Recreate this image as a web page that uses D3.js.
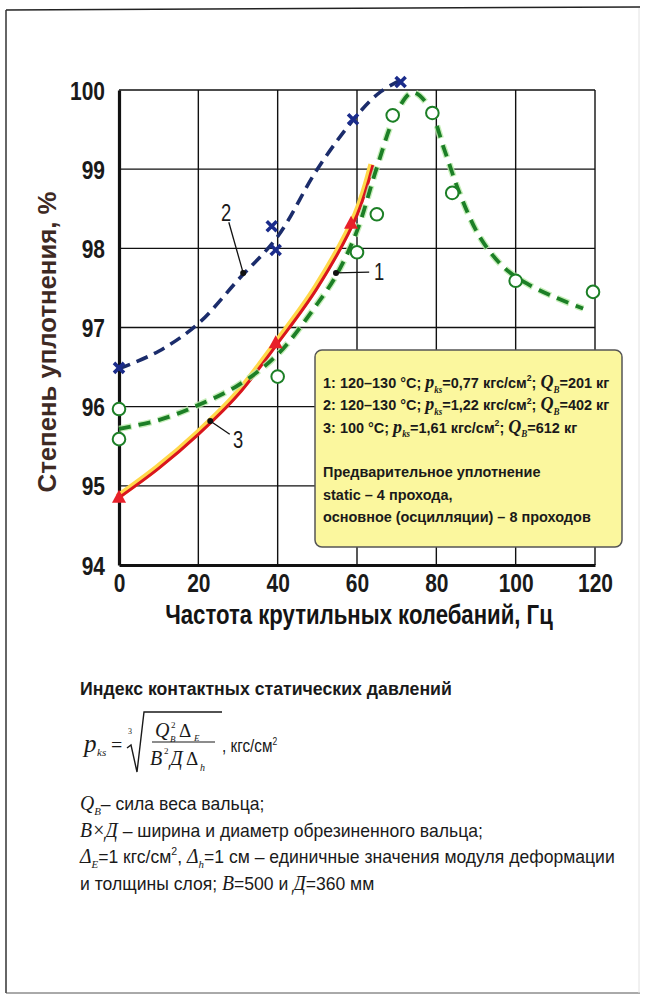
<!DOCTYPE html>
<html><head><meta charset="utf-8">
<script src="https://cdn.jsdelivr.net/npm/d3@7/dist/d3.min.js"></script>
<style>
body{margin:0;background:#fff;}
svg{display:block;}
.nar{font-family:"Liberation Sans",Arial,sans-serif;}
.ser{font-family:"Liberation Serif","DejaVu Serif",serif;font-style:italic;}
</style></head>
<body>
<svg id="c" width="645" height="996"></svg>
<script>
// ---- data ----
const xTicks = [0,20,40,60,80,100,120];
const yTicks = [94,95,96,97,98,99,100];
// curve 1 (green dashed) – fitted line
const curve1 = [[0,95.72],[10,95.83],[20,96.02],[30,96.27],[40,96.66],[50,97.3],[55,97.68],[60,98.22],[65,99.02],[70,99.72],[74,99.97],[78,99.8],[82,99.25],[86,98.68],[91,98.14],[97,97.76],[103,97.55],[110,97.38],[117,97.24]];
const points1 = [[0,95.97],[0,95.59],[40,96.38],[60,97.95],[65,98.43],[69,99.68],[79,99.71],[84,98.7],[100,97.59],[119.5,97.45]];
// curve 2 (blue dashed)
const curve2 = [[0,96.48],[10,96.7],[20,97.05],[30,97.6],[40,98.15],[50,99.0],[60,99.68],[66,99.98],[72,100.15]];
const points2 = [[0,96.49],[38.5,98.28],[39.5,97.98],[59,99.63],[71,100.1]];
// curve 3 (red solid)
const curve3 = [[0,94.85],[10,95.22],[20,95.65],[30,96.15],[40,96.8],[50,97.5],[60,98.42],[64,99.05]];
const points3 = [[0,94.85],[39.5,96.8],[58.5,98.31]];
// curve labels: [label, labelX, labelY, pointX, pointY]
const labels = [["2",27,98.35,31.3,97.69],["1",65.6,97.6,54.7,97.69],["3",30,95.48,23,95.82]];
const legendLines = [
  [["1: 120–130 °С; ","n"],["p","i"],["ks","sub"],["=0,77 кгс/см","n"],["2","sup"],["; ","n"],["Q","i"],["B","sub"],["=201 кг","n"]],
  [["2: 120–130 °С; ","n"],["p","i"],["ks","sub"],["=1,22 кгс/см","n"],["2","sup"],["; ","n"],["Q","i"],["B","sub"],["=402 кг","n"]],
  [["3: 100 °С; ","n"],["p","i"],["ks","sub"],["=1,61 кгс/см","n"],["2","sup"],["; ","n"],["Q","i"],["B","sub"],["=612 кг","n"]],
  null,
  [["Предварительное уплотнение","n"]],
  [["static – 4 прохода,","n"]],
  [["основное (осцилляции) – 8 проходов","n"]]
];
const notes = [
  [["Q","i"],["B","sub"],["– сила веса вальца;","n"]],
  [["B×Д","i"],[" – ширина и диаметр обрезиненного вальца;","n"]],
  [["Δ","i"],["E","sub"],["=1 кгс/см","n"],["2","sup"],[", ","n"],["Δ","i"],["h","sub"],["=1 см – единичные значения модуля деформации","n"]],
  [["и толщины слоя; ","n"],["B","i"],["=500 и ","n"],["Д","i"],["=360 мм","n"]]
];

const svg = d3.select("#c");
const x = d3.scaleLinear().domain([0,120]).range([119,595]);
const y = d3.scaleLinear().domain([94,100]).range([565,90]);

function scaleX(sel, s){ sel.attr("transform",`scale(${s},1)`); }
function widthOf(sel){ return sel.node().getBBox().width; }

// rich text line builder (sub/sup shifts are undone on the next part)
function rich(parent, parts, fs, opts){
  const t = parent.append("text").attr("class","nar").attr("font-size",fs)
    .attr("font-weight",opts.bold?"bold":null).attr("fill","#1a1a1a");
  let back = 0;
  parts.forEach(([s,k])=>{
    let sp;
    if(k==="n") sp = t.append("tspan").text(s);
    else if(k==="i") sp = t.append("tspan").attr("class","ser").attr("font-size",fs*opts.iscale).text(s);
    else if(k==="sub") sp = t.append("tspan").attr("class","ser").attr("font-size",fs*0.62).text(s);
    else if(k==="sup") sp = t.append("tspan").attr("font-size",fs*0.6).text(s);
    let shift = k==="sub" ? fs*0.3 : k==="sup" ? -fs*0.42 : 0;
    const d = back + shift;
    if(d!==0) sp.attr("dy",d);
    back = -shift;
  });
  return t;
}

// page frame
svg.append("line").attr("x1",6).attr("y1",10).attr("x2",640).attr("y2",7).attr("stroke","#222").attr("stroke-width",1.5);
svg.append("line").attr("x1",6).attr("y1",10).attr("x2",6).attr("y2",993).attr("stroke","#333").attr("stroke-width",1.5);
svg.append("line").attr("x1",6).attr("y1",993).attr("x2",640).attr("y2",993).attr("stroke","#555").attr("stroke-width",1);
svg.append("line").attr("x1",639).attr("y1",8).attr("x2",639).attr("y2",993).attr("stroke","#e2e2e2").attr("stroke-width",1);

// grid
const g = svg.append("g");
g.selectAll(".vg").data(xTicks.slice(1)).enter().append("line")
  .attr("x1",d=>x(d)).attr("x2",d=>x(d)).attr("y1",y(100)).attr("y2",y(94))
  .attr("stroke","#111").attr("stroke-width",1.4);
g.selectAll(".hg").data(yTicks.slice(1)).enter().append("line")
  .attr("x1",x(0)).attr("x2",x(120)).attr("y1",d=>y(d)).attr("y2",d=>y(d))
  .attr("stroke","#111").attr("stroke-width",1.4);

// axes via d3
const xAxis = svg.append("g").attr("transform",`translate(0,${y(94)})`)
  .call(d3.axisBottom(x).tickValues(xTicks).tickFormat(d3.format("d")).tickSize(0).tickPadding(6));
const yAxis = svg.append("g").attr("transform",`translate(${x(0)},0)`)
  .call(d3.axisLeft(y).tickValues(yTicks).tickFormat(d3.format("d")).tickSize(0).tickPadding(14));
[xAxis,yAxis].forEach(a=>{
  a.select(".domain").attr("stroke","#111").attr("stroke-width",3.2);
  a.selectAll("text").attr("class","nar").attr("font-size",25).attr("font-weight","bold").attr("fill","#1a1a1a");
});
xAxis.selectAll("text").attr("dy","0.85em");
yAxis.selectAll("text").attr("dy","0.36em");
const tickS = 35 / widthOf(yAxis.selectAll("text").filter(d=>d===100));
yAxis.selectAll("text").attr("x",-14/tickS).call(scaleX,tickS);
xAxis.selectAll("text").call(scaleX,tickS);

// legend box
svg.append("rect").attr("x",315).attr("y",350).attr("width",307).attr("height",197).attr("rx",7)
  .attr("fill","#fbf79e").attr("stroke","#555").attr("stroke-width",1.5);
let legS = null;
legendLines.forEach((line,i)=>{
  if(!line) return;
  const gg = svg.append("g").attr("transform",`translate(323,${388+i*22.3})`);
  const t = rich(gg, line, 15.5, {bold:true, iscale:1.25});
  if(legS===null) legS = 287/widthOf(t);
  scaleX(t,legS);
});

// curves
const line = d3.line().x(d=>x(d[0])).y(d=>y(d[1])).curve(d3.curveCatmullRom.alpha(0.5));
svg.append("path").attr("d",line(curve3)).attr("fill","none").attr("stroke","#ffd84a").attr("stroke-width",6)
  .attr("transform","translate(-1.5,-1)");
svg.append("path").attr("d",line(curve3)).attr("fill","none").attr("stroke","#d9151f").attr("stroke-width",3);
svg.append("path").attr("d",line(curve1)).attr("fill","none").attr("stroke","#b8eaa8").attr("stroke-width",6.5)
  .attr("stroke-dasharray","13,7").attr("opacity",0.8);
svg.append("path").attr("d",line(curve1)).attr("fill","none").attr("stroke","#1c7f26").attr("stroke-width",3.8)
  .attr("stroke-dasharray","12,8");
svg.append("path").attr("d",line(curve2)).attr("fill","none").attr("stroke","#1b2c6b").attr("stroke-width",3.6)
  .attr("stroke-dasharray","12,7");

// markers
svg.selectAll(".c1").data(points1).enter().append("circle")
  .attr("cx",d=>x(d[0])).attr("cy",d=>y(d[1])).attr("r",6.3)
  .attr("fill","#fff").attr("stroke","#1c7f26").attr("stroke-width",2);
const cr = 5;
svg.selectAll(".c2").data(points2).enter().append("path")
  .attr("d",d=>{const cx=x(d[0]),cy=y(d[1]);return `M${cx-cr},${cy-cr}L${cx+cr},${cy+cr}M${cx-cr},${cy+cr}L${cx+cr},${cy-cr}`;})
  .attr("stroke","#1b2c8b").attr("stroke-width",3.6);
svg.selectAll(".c3").data(points3).enter().append("path")
  .attr("d",d=>{const cx=x(d[0]),cy=y(d[1]);return `M${cx},${cy-8}L${cx+7},${cy+5}L${cx-7},${cy+5}Z`;})
  .attr("fill","#e8202a");

// curve labels with leaders
labels.forEach(([t,lx,ly,px,py])=>{
  const tx=x(lx), ty=y(ly);
  const gg = svg.append("g").attr("transform",`translate(${tx},${ty})`);
  gg.append("text").attr("class","nar").attr("font-size",23).attr("text-anchor","middle")
    .attr("fill","#1a1a1a").text(t).call(scaleX,0.8);
  const dx = x(px)-tx, dy = y(py)-(ty-8);
  const len=Math.hypot(dx,dy);
  const sx = tx+dx/len*10, sy=(ty-8)+dy/len*10;
  svg.append("line").attr("x1",sx).attr("y1",sy).attr("x2",x(px)).attr("y2",y(py)).attr("stroke","#111").attr("stroke-width",1.3);
  svg.append("circle").attr("cx",x(px)).attr("cy",y(py)).attr("r",3).attr("fill","#111");
});

// axis titles
{
  const gg = svg.append("g").attr("transform","translate(359,624)");
  const t = gg.append("text").attr("class","nar").attr("text-anchor","middle")
    .attr("font-size",27).attr("font-weight","bold").attr("fill","#141414").text("Частота крутильных колебаний, Гц");
  scaleX(t, 388/widthOf(t));
  const gy = svg.append("g").attr("transform","translate(56,342) rotate(-90)");
  const ty = gy.append("text").attr("class","nar").attr("text-anchor","middle")
    .attr("font-size",25).attr("font-weight","bold").attr("fill","#3e2a24").text("Степень уплотнения, %");
  scaleX(ty, 301/widthOf(ty));
}

// bottom notes
{
  const gg = svg.append("g").attr("transform","translate(80,695)");
  const t = gg.append("text").attr("class","nar").attr("font-size",19).attr("font-weight","bold")
    .attr("fill","#1a1a1a").text("Индекс контактных статических давлений");
  scaleX(t, 372/widthOf(t));
}
// formula
const f = svg.append("g").attr("fill","#1a1a1a").attr("font-family","Liberation Serif, serif");
const ft = (xx,yy,s,fs,it)=>f.append("text").attr("x",xx).attr("y",yy).attr("font-size",fs).attr("font-style",it?"italic":null).text(s);
ft(84,752,"p",25,true);
ft(97,756,"ks",11,true);
ft(111,752,"=",20,false);
ft(128,734,"3",8,false);
f.append("path").attr("d","M127,748 L131,745 L137,772 L144,712 L222,712").attr("fill","none").attr("stroke","#1a1a1a").attr("stroke-width",1.4);
f.append("line").attr("x1",152).attr("x2",215).attr("y1",742).attr("y2",742).attr("stroke","#1a1a1a").attr("stroke-width",1.2);
ft(155,737,"Q",20,true);
ft(171,728,"2",9,false);
ft(170,742,"B",9,true);
ft(179,737,"Δ",19,false);
ft(194,741,"E",9,true);
ft(150,765,"B",20,true);
ft(164,754,"2",9,false);
ft(170,765,"Д",20,true);
ft(186,765,"Δ",19,false);
ft(200,771,"h",10,true);
{
  const gg = svg.append("g").attr("transform","translate(222,752)");
  const u = gg.append("text").attr("class","nar").attr("font-size",18).attr("fill","#1a1a1a");
  u.append("tspan").text(", кгс/см");
  u.append("tspan").attr("font-size",10).attr("dy",-7).text("2");
  scaleX(u,0.85);
}
let noteS = null;
const noteOrder = [2,0,1,3];
noteOrder.forEach(i=>{
  const gg = svg.append("g").attr("transform",`translate(80,${810+i*26.5})`);
  const t = rich(gg, notes[i], 18, {bold:false, iscale:1.12});
  if(noteS===null) noteS = 536/widthOf(t);
  scaleX(t,noteS);
});
</script>
</body></html>
